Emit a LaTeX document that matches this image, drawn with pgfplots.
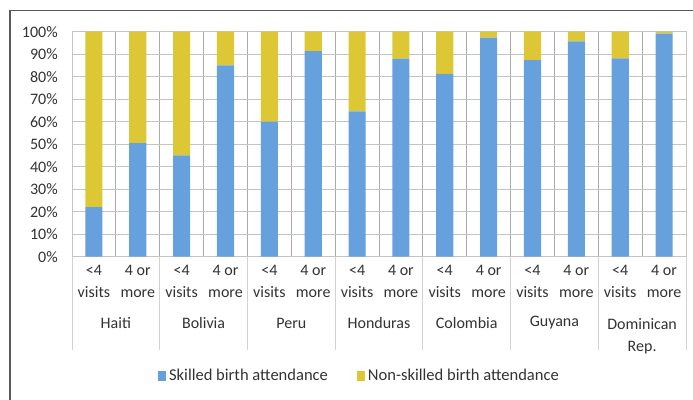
\documentclass[border=0pt]{standalone}
\usepackage{pgfplots}
\pgfplotsset{compat=1.18}
\usepackage{pgfplotstable}
\usepackage{fontspec}
\setmainfont{Carlito}
\definecolor{skilled}{RGB}{102,160,221}
\definecolor{nonskilled}{RGB}{222,199,52}
\definecolor{hgrid}{RGB}{196,196,196}
\definecolor{vgrid}{RGB}{170,170,170}
\definecolor{sepc}{RGB}{210,210,210}
\definecolor{txt}{RGB}{50,50,50}

\pgfplotstableread{
x skilled non
0 22 78
1 50.5 49.5
2 45 55
3 85 15
4 60 40
5 91.3 8.7
6 64.6 35.4
7 88 12
8 81.2 18.8
9 97.3 2.7
10 87.3 12.7
11 95.7 4.3
12 88.1 11.9
13 99.1 0.9
}\datatable

\begin{document}
\fontsize{12}{14}\selectfont
\begin{tikzpicture}
\useasboundingbox (0,0) rectangle (519.75pt,300pt);
\draw[black!65, line width=0.8pt] (7.5pt,-10pt) -- (7.5pt,292pt) -- (540pt,292pt);
\begin{axis}[
  at={(54pt,107.5pt)}, anchor=south west,
  scale only axis, width=460.5pt, height=168.75pt,
  ybar stacked, bar width=0.39,
  xmin=-0.5, xmax=13.5, ymin=0, ymax=100,
  xtick={0,...,13},
  xticklabels={{<4\\visits},{4 or\\more},{<4\\visits},{4 or\\more},{<4\\visits},{4 or\\more},{<4\\visits},{4 or\\more},{<4\\visits},{4 or\\more},{<4\\visits},{4 or\\more},{<4\\visits},{4 or\\more}},
  xticklabel style={align=center, text=txt, yshift=-2.5pt, font=\fontsize{12}{16.5}\selectfont},
  minor xtick={-0.5,0.5,...,13.5},
  xminorgrids, minor grid style={vgrid, line width=0.6pt},
  ytick={0,10,...,100},
  yticklabel={\pgfmathprintnumber{\tick}\%},
  yticklabel style={text=txt, xshift=-6.5pt},
  /pgf/number format/assume math mode=true,
  ymajorgrids, major grid style={hgrid, line width=0.6pt},
  major tick length=0, minor tick length=0,
  axis line style={draw=hgrid, line width=0.6pt},
  clip=false,
  legend style={at={(0.469,-0.53)}, anchor=center, draw=none, fill=none,
    legend columns=2, font=\fontsize{12.4}{14}\selectfont\color{txt},
    /tikz/every even column/.append style={column sep=20pt}},
]
\addplot[fill=skilled, draw=none,
  legend image code/.code={\fill[skilled] (0pt,-4pt) rectangle (6pt,4pt);}]
  table[x=x, y=skilled] {\datatable};
\addlegendentry{Skilled birth attendance}
\addplot[fill=nonskilled, draw=none,
  legend image code/.code={\fill[nonskilled] (0pt,-4pt) rectangle (6pt,4pt);}]
  table[x=x, y=non] {\datatable};
\addlegendentry{Non-skilled birth attendance}
\pgfplotsinvokeforeach{-0.5,1.5,3.5,5.5,7.5,9.5,11.5,13.5}{
  \draw[sepc, line width=0.6pt] (axis cs:#1,0) -- ++(0pt,-70pt);
}
\node[text=txt, anchor=center] at ([yshift=-49.7pt]axis cs:0.5,0) {Haiti};
\node[text=txt, anchor=center] at ([yshift=-49.7pt]axis cs:2.5,0) {Bolivia};
\node[text=txt, anchor=center] at ([yshift=-49.7pt]axis cs:4.5,0) {Peru};
\node[text=txt, anchor=center] at ([yshift=-49.7pt]axis cs:6.5,0) {Honduras};
\node[text=txt, anchor=center] at ([yshift=-49.7pt]axis cs:8.5,0) {Colombia};
\node[text=txt, anchor=center] at ([yshift=-49.7pt]axis cs:10.5,0) {Guyana};
\node[text=txt, anchor=north, align=center, font=\fontsize{12}{16.5}\selectfont]
  at ([yshift=-42.5pt]axis cs:12.5,0) {Dominican\\Rep.};
\end{axis}
\end{tikzpicture}
\end{document}
